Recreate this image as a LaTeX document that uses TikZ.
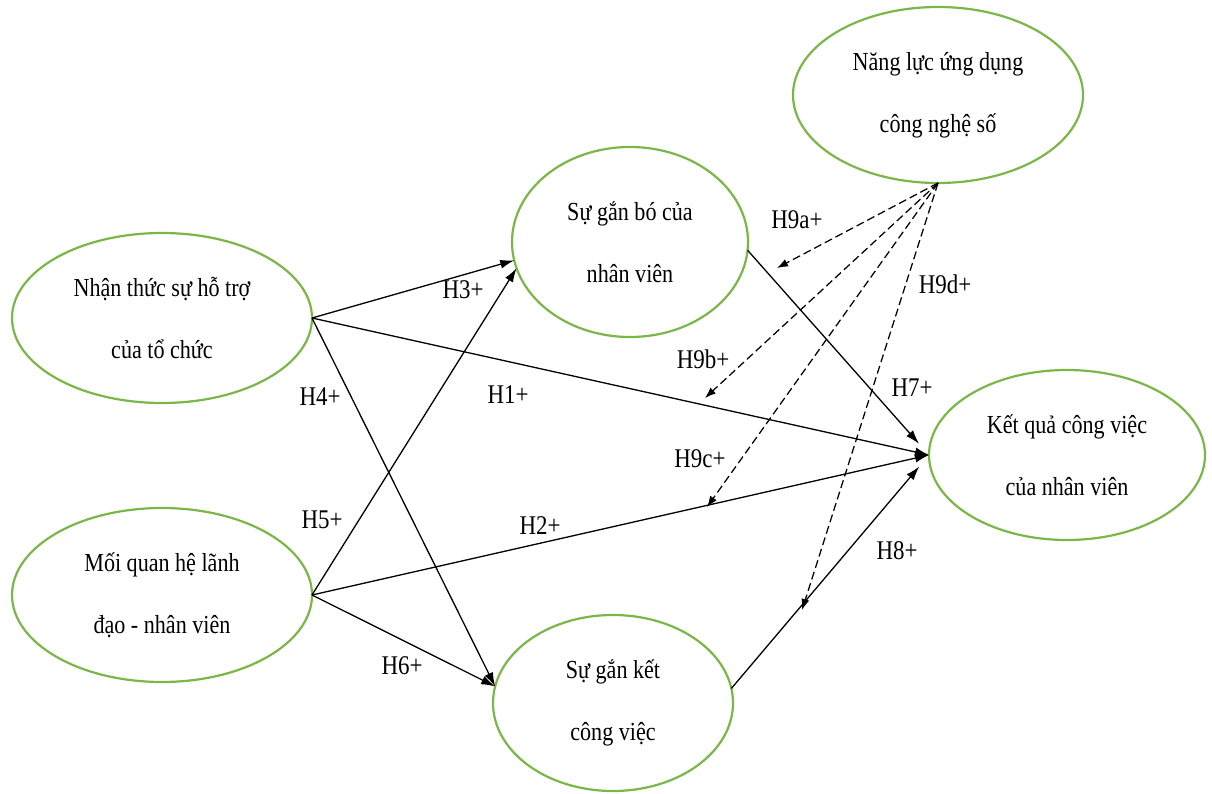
\documentclass[tikz,border=0pt]{standalone}
\usepackage{fontspec}
\setmainfont{Liberation Serif}[FakeStretch=0.85]
\usetikzlibrary{shapes.geometric,arrows.meta}
\definecolor{ovalgreen}{HTML}{7AB648}
\begin{document}
\begin{tikzpicture}[x=1pt,y=-1pt,
  construct/.style={ellipse,draw=ovalgreen,line width=2.2pt,inner sep=0pt,outer sep=0pt,
    align=center,font=\fontsize{26pt}{62pt}\selectfont},
  effect/.style={line width=1.3pt,-{Latex[length=14pt,width=9pt]}},
  moderate/.style={line width=1.25pt,dash pattern=on 8pt off 4pt,-{Latex[length=11pt,width=8pt]}},
  hyp/.style={inner sep=0pt,font=\fontsize{27pt}{32pt}\selectfont}]
\useasboundingbox (0,0) rectangle (1212,794);

% latent constructs
\node[construct,minimum width=300pt,minimum height=170pt] (n1) at (162,318) {Nhận thức sự hỗ trợ\\của tổ chức};
\node[construct,minimum width=300pt,minimum height=174pt] (n2) at (162,595) {Mối quan hệ lãnh\\đạo - nhân viên};
\node[construct,minimum width=236pt,minimum height=190pt] (gb) at (630,242) {Sự gắn bó của\\nhân viên};
\node[construct,minimum width=240pt,minimum height=176pt] (sk) at (613,703) {Sự gắn kết\\công việc};
\node[construct,minimum width=290pt,minimum height=176pt] (nl) at (938,95) {Năng lực ứng dụng\\công nghệ số};
\node[construct,minimum width=276pt,minimum height=170pt] (kq) at (1067,455) {Kết quả công việc\\của nhân viên};

% direct paths
\draw[effect] (n1.east) -- (gb.189);
\draw[effect] (n1.east) -- (kq.west);
\draw[effect] (n1.east) -- (sk.172);
\draw[effect] (n2.east) -- (gb.193);
\draw[effect] (n2.east) -- (kq.west);
\draw[effect] (n2.east) -- (sk.172);
\draw[effect,shorten >=15pt] (gb.356) -- (kq.west);
\draw[effect,shorten >=15pt] (sk.7) -- (kq.west);

% moderating effects
\coordinate (m9a) at (777,268);
\coordinate (m9b) at (705,398);
\coordinate (m9c) at (707,507);
\coordinate (m9d) at (802,610);
\draw[moderate] (nl.south) -- (m9a);
\draw[moderate] (nl.south) -- (m9b);
\draw[moderate] (nl.south) -- (m9c);
\draw[moderate] (nl.south) -- (m9d);

% hypothesis labels
\node[hyp] (h1) at (508,395) {H1+};
\node[hyp] (h2) at (540,526) {H2+};
\node[hyp] (h3) at (463,290) {H3+};
\node[hyp] (h4) at (320,397) {H4+};
\node[hyp] (h5) at (322,520) {H5+};
\node[hyp] (h6) at (402,666) {H6+};
\node[hyp] (h7) at (912,388) {H7+};
\node[hyp] (h8) at (897,551) {H8+};
\node[hyp] (h9a) at (797,220) {H9a+};
\node[hyp] (h9b) at (703,359) {H9b+};
\node[hyp] (h9c) at (700,459) {H9c+};
\node[hyp] (h9d) at (945,284) {H9d+};
\end{tikzpicture}
\end{document}
